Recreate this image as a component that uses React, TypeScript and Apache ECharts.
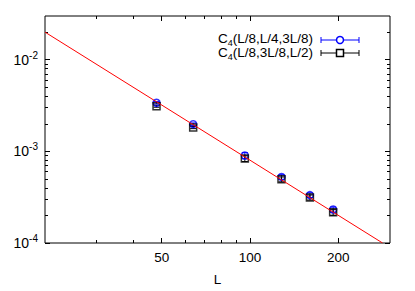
import React, { useEffect, useRef } from 'react';
import * as echarts from 'echarts';

// ---- data ----
const sizesL = [48, 64, 96, 128, 160, 192];
const c4A = [3.39e-3, 1.98e-3, 9.0e-4, 5.26e-4, 3.33e-4, 2.32e-4];
const c4AErr = [1.0e-4, 6e-5, 7e-5, 3e-5, 2e-5, 1.5e-5];
const c4B = [3.11e-3, 1.82e-3, 8.34e-4, 4.95e-4, 3.14e-4, 2.16e-4];
const c4BErr = [8e-5, 5e-5, 6e-5, 3e-5, 2e-5, 1.5e-5];
const fitL = [20, 283];
const fitC = [2e-2, 1e-4];
const seriesNames = ['C{sub|4}(L/8,L/4,3L/8)', 'C{sub|4}(L/8,3L/8,L/2)'];
const xMajorTicks = [50, 100, 200];
const xMinorTicks = [30, 40, 60, 70, 80, 90];
const yMajorTicks = [1e-4, 1e-3, 1e-2];
const yMinorTicks = [
  2e-4, 3e-4, 4e-4, 5e-4, 6e-4, 7e-4, 8e-4, 9e-4,
  2e-3, 3e-3, 4e-3, 5e-3, 6e-3, 7e-3, 8e-3, 9e-3,
  2e-2,
];
const xAxisName = 'L';

const FONT = '"Liberation Sans", Arial, Helvetica, sans-serif';
const BLUE = '#0000ff';
const BLACK = '#000000';
const RED = '#ff0000';

function errSeries(vals: number[], errs: number[], color: string) {
  return {
    type: 'custom',
    xAxisIndex: 0,
    yAxisIndex: 0,
    silent: true,
    data: sizesL.map((L, i) => [L, vals[i] - errs[i], vals[i] + errs[i]]),
    encode: { x: 0, y: [1, 2] },
    renderItem: (_p: any, api: any) => {
      const lo = api.coord([api.value(0), api.value(1)]);
      const hi = api.coord([api.value(0), api.value(2)]);
      const w = 3;
      const style = { stroke: color, lineWidth: 1 };
      return {
        type: 'group',
        children: [
          { type: 'line', shape: { x1: lo[0], y1: lo[1], x2: hi[0], y2: hi[1] }, style },
          { type: 'line', shape: { x1: lo[0] - w, y1: lo[1], x2: lo[0] + w, y2: lo[1] }, style },
          { type: 'line', shape: { x1: hi[0] - w, y1: hi[1], x2: hi[0] + w, y2: hi[1] }, style },
        ],
      };
    },
  };
}

export default function App() {
  const ref = useRef<HTMLDivElement>(null);
  useEffect(() => {
    if (!ref.current) return;
    const chart = echarts.init(ref.current, undefined, { renderer: 'svg' });

    const xBase = { type: 'log', logBase: 10, min: 20, max: 300, gridIndex: 0, axisLine: { show: false }, splitLine: { show: false } };
    const yBase = { type: 'log', logBase: 10, min: 1e-4, max: 3e-2, gridIndex: 0, axisLine: { show: false }, splitLine: { show: false } };
    const tick = (vals: number[], len: number) => ({
      show: true, inside: true, length: len, customValues: vals, lineStyle: { color: BLACK, width: 1 },
    });
    const noLabel = { show: false };

    const legendRows = [38.5, 52.5];
    const lineY = [40, 53];
    const sampleX1 = 321;
    const sampleX2 = 359;
    const sampleCx = 340;
    const legendGraphics: any[] = [];
    [BLUE, BLACK].forEach((col, i) => {
      legendGraphics.push({
        type: 'text', x: 313, y: legendRows[i],
        style: {
          text: seriesNames[i], align: 'right', verticalAlign: 'middle', fill: BLACK,
          font: `13.5px ${FONT}`,
          rich: {
            sub: { fontSize: 9, lineHeight: 9, verticalAlign: 'bottom', fontFamily: FONT, fill: BLACK },
          },
          lineHeight: 18,
        },
      });
      const st = { stroke: col, lineWidth: 1 };
      legendGraphics.push({ type: 'line', shape: { x1: sampleX1, y1: lineY[i], x2: sampleX2, y2: lineY[i] }, style: st });
      legendGraphics.push({ type: 'line', shape: { x1: sampleX1, y1: lineY[i] - 3, x2: sampleX1, y2: lineY[i] + 3 }, style: st });
      legendGraphics.push({ type: 'line', shape: { x1: sampleX2, y1: lineY[i] - 3, x2: sampleX2, y2: lineY[i] + 3 }, style: st });
      if (i === 0) {
        legendGraphics.push({ type: 'circle', shape: { cx: sampleCx, cy: lineY[i], r: 3.5 }, style: { fill: '#fff', stroke: col, lineWidth: 1.5 } });
      } else {
        legendGraphics.push({ type: 'rect', shape: { x: sampleCx - 3.5, y: lineY[i] - 3.5, width: 7, height: 7 }, style: { fill: '#fff', stroke: col, lineWidth: 1.5 } });
      }
    });

    chart.setOption({
      animation: false,
      backgroundColor: '#ffffff',
      grid: { left: 45, right: 25, top: 16, bottom: 45, show: true, borderColor: BLACK, borderWidth: 1, backgroundColor: 'transparent' },
      xAxis: [
        {
          ...xBase, position: 'bottom', axisTick: tick(xMajorTicks, 5),
          axisLabel: { show: true, customValues: xMajorTicks, margin: 7, color: BLACK, fontSize: 13.5, fontFamily: FONT },
          name: xAxisName, nameLocation: 'middle', nameGap: 29,
          nameTextStyle: { color: BLACK, fontSize: 13.5, fontFamily: FONT },
        },
        { ...xBase, position: 'bottom', axisTick: tick(xMinorTicks, 3), axisLabel: noLabel },
        { ...xBase, position: 'top', axisTick: tick(xMajorTicks, 5), axisLabel: noLabel },
        { ...xBase, position: 'top', axisTick: tick(xMinorTicks, 3), axisLabel: noLabel },
      ],
      yAxis: [
        {
          ...yBase, position: 'left', axisTick: tick(yMajorTicks, 5),
          axisLabel: {
            show: true, customValues: yMajorTicks, margin: 7, color: BLACK,
            formatter: (v: number) => `{b|10}{s|${Math.round(Math.log10(v))}}`,
            rich: {
              b: { fontSize: 14, lineHeight: 19, fontFamily: FONT, color: BLACK },
              s: { fontSize: 10, lineHeight: 10, verticalAlign: 'top', fontFamily: FONT, color: BLACK },
            },
          },
        },
        { ...yBase, position: 'left', axisTick: tick(yMinorTicks, 3), axisLabel: noLabel },
        { ...yBase, position: 'right', axisTick: tick(yMajorTicks, 5), axisLabel: noLabel },
        { ...yBase, position: 'right', axisTick: tick(yMinorTicks, 3), axisLabel: noLabel },
      ],
      series: [
        errSeries(c4A, c4AErr, BLUE),
        {
          type: 'scatter', xAxisIndex: 0, yAxisIndex: 0, symbol: 'circle', symbolSize: 7,
          data: sizesL.map((L, i) => [L, c4A[i]]),
          itemStyle: { color: 'rgba(0,0,0,0)', borderColor: BLUE, borderWidth: 1.5 },
          silent: true,
        },
        errSeries(c4B, c4BErr, BLACK),
        {
          type: 'scatter', xAxisIndex: 0, yAxisIndex: 0, symbol: 'rect', symbolSize: 7,
          data: sizesL.map((L, i) => [L, c4B[i]]),
          itemStyle: { color: 'rgba(0,0,0,0)', borderColor: BLACK, borderWidth: 1.5 },
          silent: true,
        },
        {
          type: 'line', xAxisIndex: 0, yAxisIndex: 0, symbol: 'none', z: 5,
          data: fitL.map((L, i) => [L, fitC[i]]),
          lineStyle: { color: RED, width: 1 },
          silent: true,
        },
      ],
      graphic: legendGraphics,
    });
    return () => chart.dispose();
  }, []);
  return <div ref={ref} style={{ position: 'fixed', left: 0, top: 0, width: 415, height: 291 }} />;
}
